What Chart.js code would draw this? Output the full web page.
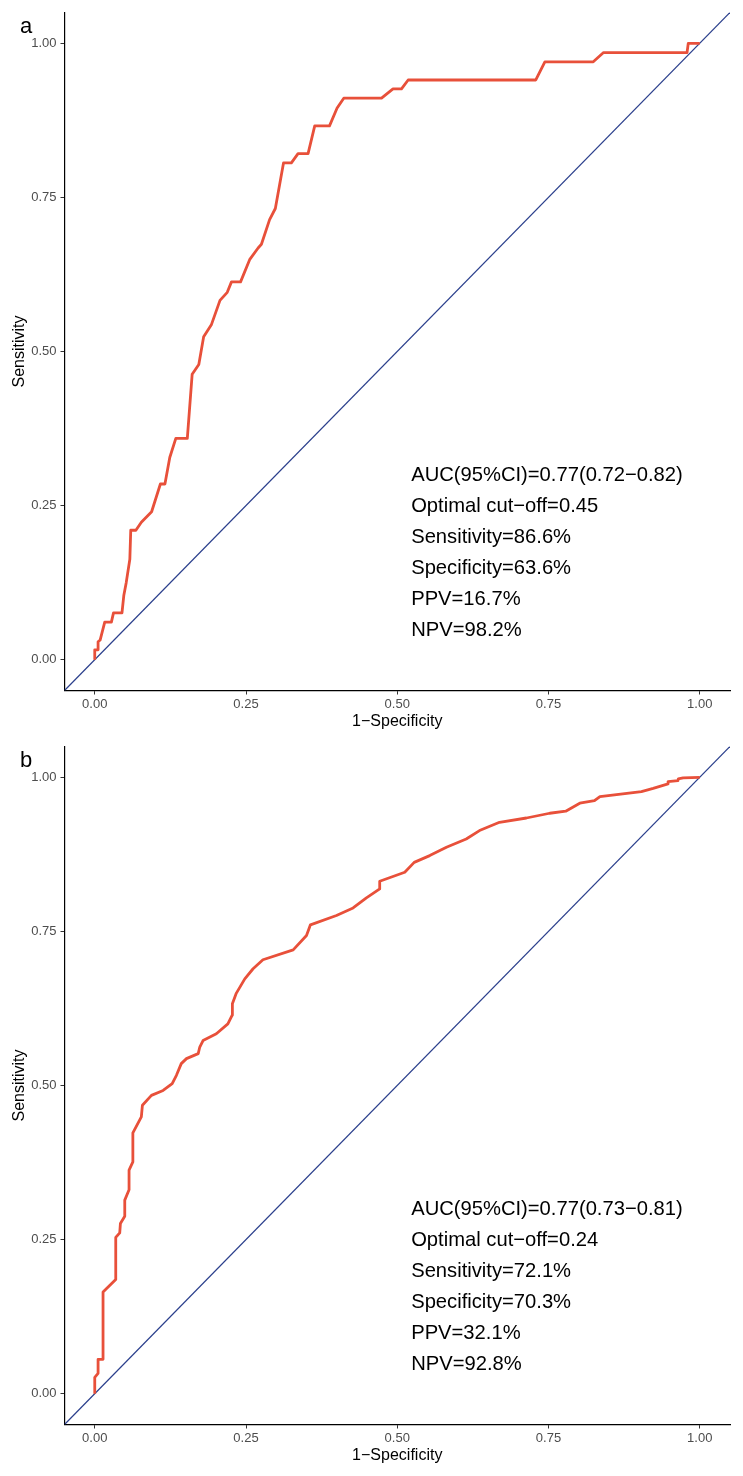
<!DOCTYPE html>
<html><head><meta charset="utf-8">
<script src="https://cdn.jsdelivr.net/npm/chart.js@4"></script>
<style>
html,body{margin:0;padding:0;background:#fff;}
body{width:743px;height:1476px;position:relative;overflow:hidden;}
.panel{position:absolute;left:0;width:743px;height:738px;}
#pa{top:0px} #pb{top:734px}
canvas{display:block}
</style></head><body>
<div class="panel" id="pa"><canvas id="ca" width="743" height="738"></canvas></div>
<div class="panel" id="pb"><canvas id="cb" width="743" height="738"></canvas></div>
<script>
// ---- data ----
const tickValues = [0, 0.25, 0.5, 0.75, 1];
const tickLabels = ['0.00', '0.25', '0.50', '0.75', '1.00'];
const refLine = [-0.05, 1.05];

const rocA_fpr = [0,0,0.0055,0.0055,0.009,0.0165,0.0275,0.031,0.045,0.048,0.052,0.058,0.0595,0.068,0.077,0.094,0.1085,0.116,0.124,0.134,0.153,0.161,0.172,0.180,0.193,0.207,0.219,0.226,0.241,0.256,0.27,0.2755,0.289,0.2985,0.312,0.325,0.336,0.3526,0.3636,0.388,0.4006,0.4116,0.474,0.493,0.507,0.518,0.729,0.744,0.824,0.841,0.979,0.981,1.0];
const rocA_tpr = [0,0.016,0.016,0.029,0.032,0.061,0.061,0.076,0.076,0.104,0.125,0.163,0.21,0.21,0.223,0.24,0.285,0.285,0.328,0.359,0.359,0.463,0.479,0.524,0.544,0.583,0.596,0.613,0.613,0.649,0.668,0.674,0.714,0.732,0.806,0.806,0.821,0.821,0.866,0.866,0.895,0.911,0.911,0.926,0.926,0.9405,0.9405,0.970,0.970,0.985,0.985,1.0,1.0];

const rocB_fpr = [0,0,0.0055,0.0055,0.0137,0.0137,0.0347,0.0347,0.0413,0.0424,0.0496,0.0496,0.0567,0.0567,0.063,0.063,0.077,0.0788,0.0937,0.113,0.128,0.135,0.143,0.1516,0.171,0.1736,0.179,0.201,0.220,0.227,0.2275,0.2336,0.248,0.2617,0.278,0.328,0.350,0.3565,0.3995,0.427,0.449,0.471,0.471,0.5124,0.528,0.5537,0.5813,0.614,0.636,0.669,0.7135,0.752,0.7785,0.8017,0.826,0.835,0.9036,0.923,0.9476,0.9476,0.964,0.9645,0.9725,1.0];
const rocB_tpr = [0,0.0266,0.033,0.0557,0.0557,0.165,0.1854,0.2535,0.261,0.276,0.288,0.314,0.331,0.3626,0.376,0.423,0.449,0.468,0.484,0.492,0.503,0.5165,0.5355,0.5436,0.5517,0.5624,0.573,0.584,0.600,0.6138,0.6327,0.649,0.673,0.6894,0.704,0.720,0.7434,0.7607,0.7758,0.788,0.8045,0.819,0.8314,0.846,0.862,0.873,0.8865,0.900,0.9136,0.927,0.934,0.9417,0.945,0.958,0.962,0.9687,0.9768,0.982,0.9893,0.993,0.9946,0.9973,0.999,1.0];

const statsA = ['AUC(95%CI)=0.77(0.72\u22120.82)', 'Optimal cut\u2212off=0.45', 'Sensitivity=86.6%', 'Specificity=63.6%', 'PPV=16.7%', 'NPV=98.2%'];
const statsB = ['AUC(95%CI)=0.77(0.73\u22120.81)', 'Optimal cut\u2212off=0.24', 'Sensitivity=72.1%', 'Specificity=70.3%', 'PPV=32.1%', 'NPV=92.8%'];

const xTitle = '1\u2212Specificity';
const yTitle = 'Sensitivity';

// ---- rendering ----
const FONT = '"Liberation Sans", Arial, Helvetica, sans-serif';
Chart.defaults.font.family = FONT;

const annotate = {
  id: 'annotate',
  afterDatasetsDraw(chart, args, opts) {
    const {ctx, scales: {x, y}} = chart;
    ctx.save();
    ctx.fillStyle = '#000';
    ctx.textAlign = 'left';
    ctx.textBaseline = 'alphabetic';
    ctx.font = '20.2px ' + FONT;
    const x0 = x.getPixelForValue(0.523);
    const y0 = y.getPixelForValue(0.29);
    opts.lines.forEach((t, i) => ctx.fillText(t, x0, y0 + i * 31.05));
    ctx.font = '22px ' + FONT;
    ctx.fillText(opts.tag, 20, 32.5);
    ctx.restore();
  }
};

function toXY(xs, ys) { return xs.map((v, i) => ({x: v, y: ys[i]})); }

function axis(title, isX) {
  const s = {
    type: 'linear', min: -0.05, max: 1.05,
    afterBuildTicks: sc => { sc.ticks = tickValues.map(v => ({value: v})); },
    ticks: {
      callback: v => tickLabels[tickValues.indexOf(v)],
      color: '#4d4d4d', font: {size: 13}, padding: isX ? 2 : 4,
      maxRotation: 0, autoSkip: false
    },
    grid: {display: true, drawOnChartArea: false, drawTicks: true, tickLength: 4, color: '#333333', lineWidth: 1},
    border: {display: true, color: '#000000', width: 1.2},
    title: {display: true, text: title, color: '#000', font: {size: 16},
            padding: isX ? {top: 0, bottom: 7} : {top: 9.5, bottom: 0}},
  };
  if (isX) s.afterFit = sc => { sc.height = 47.5; };
  else s.afterFit = sc => { sc.width = 64.5; };
  return s;
}

function makeChart(id, fpr, tpr, lines, tag) {
  new Chart(document.getElementById(id), {
    type: 'line',
    data: {
      datasets: [
        {data: toXY(fpr, tpr), borderColor: '#E8503A', borderWidth: 2.8, pointRadius: 0,
         tension: 0, borderJoinStyle: 'round', fill: false},
        {data: toXY(refLine, refLine), borderColor: '#2B3F8C', borderWidth: 1.2, pointRadius: 0,
         tension: 0, fill: false}
      ]
    },
    options: {
      responsive: false, animation: false, devicePixelRatio: 1,
      layout: {padding: {top: 12.5, right: 13, bottom: 0, left: 0}},
      scales: {x: axis(xTitle, true), y: axis(yTitle, false)},
      plugins: {legend: {display: false}, tooltip: {enabled: false},
                annotate: {lines: lines, tag: tag}},
      events: []
    },
    plugins: [annotate]
  });
}

makeChart('ca', rocA_fpr, rocA_tpr, statsA, 'a');
makeChart('cb', rocB_fpr, rocB_tpr, statsB, 'b');
</script>
</body></html>
